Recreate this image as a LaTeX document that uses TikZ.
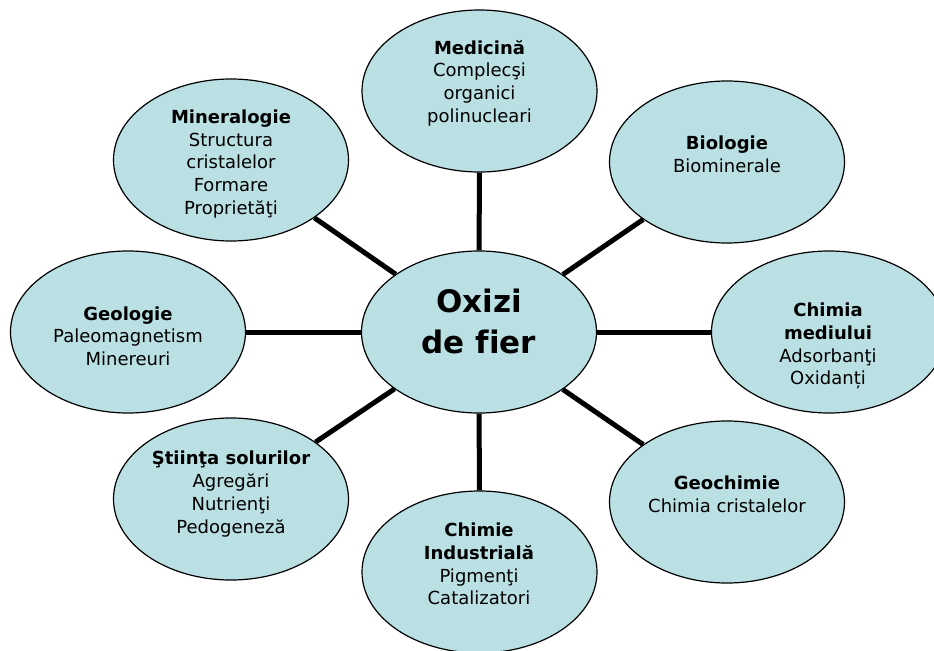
\documentclass[tikz,border=0pt]{standalone}
\usepackage{fontspec}
\setmainfont[Ligatures=NoCommon]{DejaVu Sans}
\usetikzlibrary{shapes.geometric,backgrounds}
\definecolor{bubble}{RGB}{186,224,228}
\tikzset{
  bub/.style={ellipse,draw=black,line width=1.2bp,fill=bubble,minimum width=235bp,minimum height=162bp,inner sep=0pt},
  lbl/.style={align=center,inner sep=0pt,font=\fontsize{18bp}{22.7bp}\selectfont},
  big/.style={align=center,inner sep=0pt,font=\fontsize{31bp}{41bp}\selectfont\bfseries},
  link/.style={line width=5bp}
}
\begin{document}
\begin{tikzpicture}[x=1bp,y=-1bp]
\useasboundingbox (0,0) rectangle (934,651);
\clip (0,0) rectangle (934,651);
\node[bub] (c)   at (479,332) {};
\node[bub] (med) at (479.5,91) {};
\node[bub] (min) at (231,160) {};
\node[bub] (bio) at (727,162) {};
\node[bub] (geo) at (128,332) {};
\node[bub] (chm) at (829,332) {};
\node[bub] (sol) at (231,499) {};
\node[bub] (gch) at (727,502) {};
\node[bub] (ind) at (479.5,572) {};
\begin{pgfonlayer}{background}
\foreach \n in {med,min,bio,geo,chm,sol,gch,ind}
  \draw[link] (c) -- (\n);
\end{pgfonlayer}
\node[big] (tc) at (479,321) {Oxizi\\de fier};
\node[lbl] (tmed) at (479.5,83) {\textbf{Medicină}\\Complecşi\\organici\\polinucleari};
\node[lbl] (tmin) at (231,164) {\textbf{Mineralogie}\\Structura\\cristalelor\\Formare\\Proprietăţi};
\node[lbl] (tbio) at (727,154) {\textbf{Biologie}\\Biominerale};
\node[lbl] (tgeo) at (128,336) {\textbf{Geologie}\\Paleomagnetism\\Minereuri};
\node[lbl] (tchm) at (828,346) {\textbf{Chimia}\\\textbf{mediului}\\Adsorbanţi\\Oxidanți};
\node[lbl] (tsol) at (231,494) {\textbf{Ştiinţa solurilor}\\Agregări\\Nutrienţi\\Pedogeneză};
\node[lbl] (tgch) at (727,494) {\textbf{Geochimie}\\Chimia cristalelor};
\node[lbl] (tind) at (479,564) {\textbf{Chimie}\\\textbf{Industrială}\\Pigmenţi\\Catalizatori};
\end{tikzpicture}
\end{document}
